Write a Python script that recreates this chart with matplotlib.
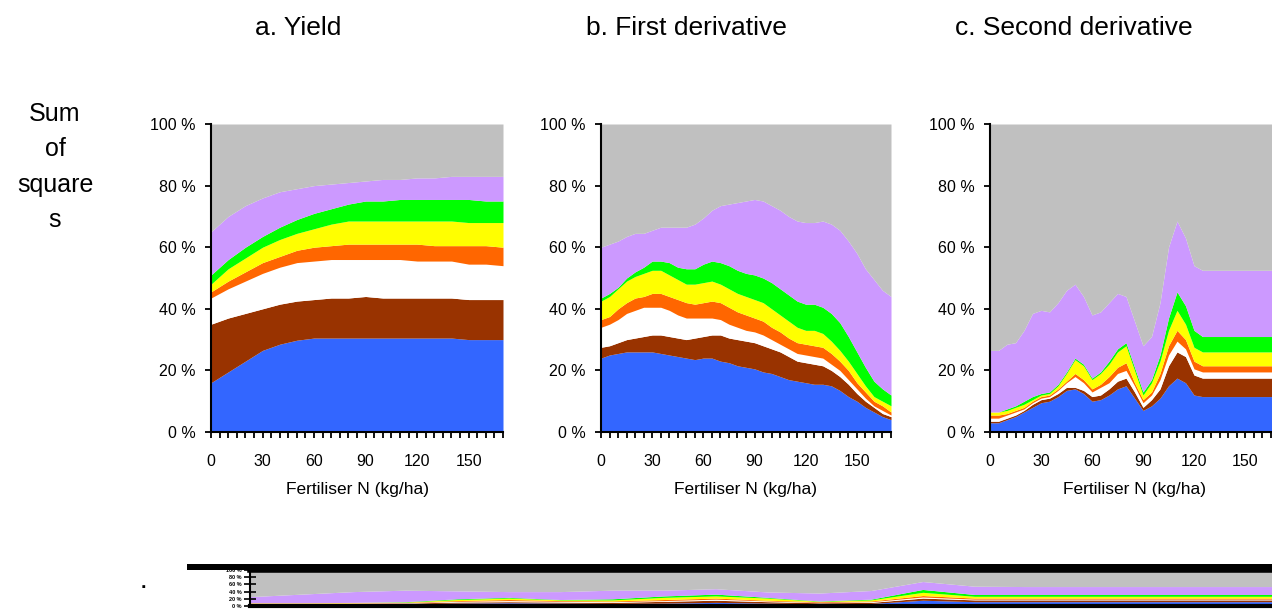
import matplotlib
matplotlib.use("Agg")
import matplotlib.pyplot as plt
from matplotlib.patches import Rectangle

plt.rcParams['font.family'] = ['Liberation Sans', 'DejaVu Sans']

# ---------------- data ----------------
layer_colors = ['#3366FF', '#993300', '#FFFFFF', '#FF6600', '#FFFF00', '#00FF00', '#CC99FF']
rest_color = '#C0C0C0'

titles = ['a. Yield', 'b. First derivative', 'c. Second derivative']
x_label = 'Fertiliser N (kg/ha)'
y_label = 'Sum\nof\nsquare\ns'
x_ticks = [0, 30, 60, 90, 120, 150]
x_minor = [0, 5, 10, 15, 20, 25, 30, 35, 40, 45, 50, 55, 60, 65, 70, 75, 80, 85,
           90, 95, 100, 105, 110, 115, 120, 125, 130, 135, 140, 145, 150, 155, 160, 165, 170]
y_ticks = [0, 20, 40, 60, 80, 100]
y_tick_labels = ['0 %', '20 %', '40 %', '60 %', '80 %', '100 %']

# cumulative tops of each layer (percent of sum of squares)
# a. Yield
a_n = [0, 10, 20, 30, 40, 50, 60, 70, 80, 90, 100, 110, 120, 130, 140, 150, 160, 170]
a_blue   = [16, 19.5, 23, 26.5, 28.5, 29.8, 30.5, 30.5, 30.5, 30.5, 30.5, 30.5, 30.5, 30.5, 30.5, 30, 30, 30]
a_brown  = [35, 37, 38.5, 40, 41.5, 42.5, 43, 43.5, 43.5, 44, 43.5, 43.5, 43.5, 43.5, 43.5, 43, 43, 43]
a_white  = [43.5, 46.5, 49, 51.5, 53.5, 55, 55.5, 56, 56, 56, 56, 56, 55.5, 55.5, 55.5, 54.5, 54.5, 54]
a_orange = [45.5, 49, 52, 55, 57, 59, 60, 60.5, 61, 61, 61, 61, 61, 60.5, 60.5, 60.5, 60.5, 60]
a_yellow = [48, 53, 56.5, 60, 62.5, 64.5, 66, 67.5, 68.5, 68.5, 68.5, 68.5, 68.5, 68.5, 68.5, 68, 68, 68]
a_green  = [51, 56, 60, 63.5, 66.5, 69, 71, 72.5, 74, 75, 75, 75.5, 75.5, 75.5, 75.5, 75.5, 75, 75]
a_purple = [65, 70, 73.5, 76, 78, 79, 80, 80.5, 81, 81.5, 82, 82, 82.5, 82.5, 83, 83, 83, 83]

# b. First derivative
b_n = x_minor
b_blue   = [24, 25, 25.5, 26, 26, 26, 26, 25.5, 25, 24.5, 24, 23.5, 24, 24, 23, 22.5, 21.5, 21,
            20.5, 19.5, 19, 18, 17, 16.5, 16, 15.5, 15.5, 15, 13.5, 11.5, 10, 8, 6.5, 5, 4]
b_brown  = [27.5, 28, 29, 30, 30.5, 31, 31.5, 31.5, 31, 30.5, 30, 30.5, 31, 31.5, 31.5, 30.5, 30, 29.5,
            29, 28, 27, 26, 24.5, 23, 22.5, 22, 21.5, 20, 18, 15.5, 12.5, 10, 8, 6, 5]
b_white  = [34, 35, 36.5, 38.5, 39.5, 40.5, 40.5, 40.5, 39.5, 38, 37, 37, 37, 37, 36.5, 35, 34, 33,
            32.5, 31.5, 30, 28.5, 27, 25.5, 25, 24.5, 24, 22, 20, 17, 14, 11, 8.5, 7, 5.5]
b_orange = [36.5, 37.5, 40, 42, 43.5, 44, 45, 45, 44, 43, 42, 41.5, 42, 42.5, 42, 40.5, 39, 38,
            37, 36, 34, 32.5, 30.5, 29, 28.5, 28, 27.5, 25.5, 23, 20, 16, 13, 10, 8.5, 6.5]
b_yellow = [42.5, 44, 46.5, 49, 50.5, 51.5, 52.5, 52.5, 51, 49.5, 48, 48, 48.5, 49, 48, 46.5, 45, 44,
            43, 42, 40, 38, 36, 34, 33, 33, 32, 29.5, 26.5, 23, 19, 15, 11.5, 10, 8.5]
b_green  = [43.5, 45, 47, 50, 52, 53.5, 55.5, 55.5, 55, 53.5, 53, 53, 54.5, 55.5, 55, 54, 52.5, 51.5,
            51, 50, 48.5, 46.5, 44.5, 42.5, 41.5, 41.5, 40.5, 38.5, 35.5, 31, 26, 21, 16.5, 14, 12]
b_purple = [60, 61, 62, 63.5, 64.5, 64.5, 65.5, 66.5, 66.5, 66.5, 66.5, 67.5, 69.5, 72, 73.5, 74, 74.5, 75,
            75.5, 75, 73.5, 72, 70, 68.5, 68, 68, 68.5, 67.5, 65.5, 62, 58, 53, 49.5, 46, 44]

# c. Second derivative
c_n = x_minor
c_blue   = [3, 3, 4, 5, 6.5, 8, 9.5, 10, 11.5, 13.5, 14, 12.5, 10, 10.5, 12, 14, 15, 11,
            7, 8.5, 11, 15, 17.5, 16, 12, 11.5, 11.5, 11.5, 11.5, 11.5, 11.5, 11.5, 11.5, 11.5, 11.5]
c_brown  = [3.5, 3.5, 4.5, 5.5, 7, 9, 10.5, 11, 12.5, 14.5, 14.5, 13.5, 11.5, 12, 14, 16.5, 17.5, 13,
            8, 10.5, 14, 21.5, 26, 24.5, 18.5, 17.5, 17.5, 17.5, 17.5, 17.5, 17.5, 17.5, 17.5, 17.5, 17.5]
c_white  = [4.5, 4.5, 5.5, 6.5, 7.5, 9.5, 11, 11.5, 13.5, 16, 18, 16, 13, 14.5, 16, 19, 20, 15,
            9.5, 12, 17, 25, 29.5, 27, 20.5, 19.5, 19.5, 19.5, 19.5, 19.5, 19.5, 19.5, 19.5, 19.5, 19.5]
c_orange = [5.5, 5.5, 6, 7, 8, 10, 11.5, 12, 14, 16.5, 19, 17, 14, 15.5, 18, 21, 22.5, 16,
            10.5, 13, 19, 28, 33, 30, 23, 21.5, 21.5, 21.5, 21.5, 21.5, 21.5, 21.5, 21.5, 21.5, 21.5]
c_yellow = [6.5, 6.5, 7, 8, 9, 10.5, 12, 12.5, 15, 19, 23.5, 21.5, 17, 19, 22, 26, 28, 20,
            12, 16, 23, 33, 39.5, 35, 27.5, 26, 26, 26, 26, 26, 26, 26, 26, 26, 26]
c_green  = [6.5, 6.5, 7.5, 8.5, 10, 11.5, 12.5, 13, 15.5, 19.5, 24, 22, 17.5, 19.5, 23, 27, 29, 21,
            13, 17, 25, 37, 45.5, 41, 33, 31, 31, 31, 31, 31, 31, 31, 31, 31, 31]
c_purple = [26.5, 26.5, 28.5, 29, 33, 38.5, 39.5, 39, 42, 46, 48, 44, 38, 39, 42, 45, 44, 36,
            28, 31, 42, 60, 68.5, 63, 54, 52.5, 52.5, 52.5, 52.5, 52.5, 52.5, 52.5, 52.5, 52.5, 52.5]

# partially visible chart at the bottom edge
s_pos    = [0, 1, 2, 3, 4, 5, 6, 7, 8, 9, 10, 11, 12, 13, 14, 15, 16, 17, 18, 19, 20]
s_blue   = [4, 4, 5, 6, 8, 9, 8, 7, 8, 10, 8, 6, 7, 16, 12, 12, 12, 12, 12, 12, 12]
s_brown  = [6, 6, 7, 8, 11, 12, 11, 10, 13, 16, 12, 9, 10, 22, 17, 17, 17, 17, 17, 17, 17]
s_white  = [7, 7, 8, 9, 13, 15, 13, 12, 15, 19, 14, 10, 12, 25, 19, 19, 19, 19, 19, 19, 19]
s_orange = [8, 8, 9, 10, 15, 18, 15, 14, 18, 22, 16, 12, 14, 29, 22, 22, 22, 22, 22, 22, 22]
s_yellow = [9, 9, 10, 11, 18, 22, 17, 17, 24, 28, 22, 13, 17, 38, 27, 27, 27, 27, 27, 27, 27]
s_green  = [9, 9, 10, 12, 20, 24, 18, 20, 28, 33, 24, 14, 19, 46, 32, 32, 32, 32, 32, 32, 32]
s_purple = [26, 33, 40, 44, 42, 40, 40, 44, 44, 48, 39, 36, 43, 68, 55, 54, 54, 54, 54, 54, 54]

panels = [
    (a_n, [a_blue, a_brown, a_white, a_orange, a_yellow, a_green, a_purple]),
    (b_n, [b_blue, b_brown, b_white, b_orange, b_yellow, b_green, b_purple]),
    (c_n, [c_blue, c_brown, c_white, c_orange, c_yellow, c_green, c_purple]),
]

# ---------------- figure ----------------
W, H = 1272, 610
fig = plt.figure(figsize=(W / 100, H / 100), dpi=100)


def px_axes(left, top, right, bottom):
    return fig.add_axes([left / W, 1 - bottom / H, (right - left) / W, (bottom - top) / H])


def draw_stack(ax, x, tops):
    lower = [0] * len(x)
    for top, col in zip(tops, layer_colors):
        ax.fill_between(x, lower, top, color=col, linewidth=0)
        lower = top
    ax.fill_between(x, lower, [100] * len(x), color=rest_color, linewidth=0)


axes_px = [(211, 124, 503, 432), (601, 124, 891, 432), (990, 124, 1279, 432)]
title_x = [298, 686, 1074]

for (x, tops), box, title, tx in zip(panels, axes_px, titles, title_x):
    ax = px_axes(*box)
    draw_stack(ax, x, tops)
    ax.set_xlim(0, 170)
    ax.set_ylim(0, 100)
    for s in ['top', 'right']:
        ax.spines[s].set_visible(False)
    for s in ['left', 'bottom']:
        ax.spines[s].set_linewidth(1.5)
        ax.spines[s].set_color('black')
    ax.set_xticks(x_ticks)
    ax.set_xticks(x_minor, minor=True)
    ax.set_yticks(y_ticks)
    ax.set_yticklabels(y_tick_labels)
    ax.tick_params(axis='both', which='both', direction='out', length=4, width=1.3,
                   color='black', labelsize=11.5)
    ax.tick_params(axis='x', which='both', pad=12)
    ax.tick_params(axis='y', which='both', pad=7)
    ax.set_xlabel(x_label, fontsize=12.5, labelpad=9)
    fig.text(tx / W, 1 - 28 / H, title, ha='center', va='center', fontsize=19)

fig.text(55 / W, 1 - 167 / H, y_label, ha='center', va='center', fontsize=18,
         linespacing=1.6, multialignment='center')

# bottom, partially cropped chart
axs = px_axes(250, 570, 1285, 606)
draw_stack(axs, s_pos, [s_blue, s_brown, s_white, s_orange, s_yellow, s_green, s_purple])
axs.set_xlim(0, 20)
axs.set_ylim(0, 100)
axs.set_xticks([])
axs.set_yticks(y_ticks)
axs.set_yticklabels(y_tick_labels, fontsize=4, fontweight='bold')
axs.tick_params(axis='y', direction='inout', length=8, width=1.2, pad=2)
axs.spines['right'].set_visible(False)
axs.spines['top'].set_linewidth(4)
axs.spines['bottom'].set_linewidth(3)
axs.spines['left'].set_linewidth(1.5)
fig.patches.append(Rectangle((187 / W, 1 - 570 / H), (W - 187) / W, 6 / H,
                             transform=fig.transFigure, facecolor='black', edgecolor='none'))
fig.text(143 / W, 1 - 583 / H, '.', ha='center', va='center', fontsize=14, fontweight='bold')

fig.savefig('out.png', dpi=100)
